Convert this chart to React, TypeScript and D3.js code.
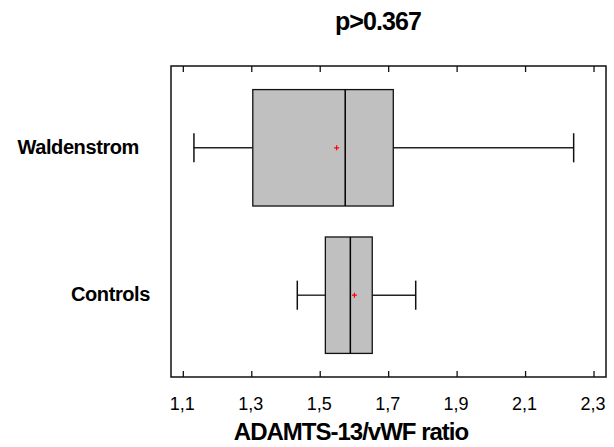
import React from 'react';
import * as d3 from 'd3';

const title = 'p>0.367';
const xTitle = 'ADAMTS-13/vWF ratio';
const categories = ['Waldenstrom', 'Controls'];
const lowerWhisker = [1.131, 1.433];
const q1 = [1.303, 1.515];
const median = [1.573, 1.588];
const q3 = [1.7135, 1.652];
const upperWhisker = [2.2405, 1.779];
const means = [1.548, 1.6];
const tickValues = [1.1, 1.3, 1.5, 1.7, 1.9, 2.1, 2.3];

const width = 614;
const height = 447;
const frame = { left: 171, right: 606, top: 66, bottom: 377 };
const labelRight = [139, 150];

const App = () => {
  const x = d3.scaleLinear().domain([1.064, 2.335]).range([frame.left, frame.right]);
  const y = d3
    .scaleBand()
    .domain(categories)
    .range([frame.top, frame.bottom])
    .paddingInner(0.21)
    .paddingOuter(0.16);
  const bw = y.bandwidth();
  const fmt = d3.formatLocale({ decimal: ',', thousands: '.', grouping: [3], currency: ['', ''] }).format('.1f');
  const font = 'Liberation Sans, Arial, sans-serif';

  return (
    <svg width={width} height={height} style={{ position: 'absolute', left: 0, top: 0, background: '#fff' }} fontFamily={font}>
      <text x={378} y={30} textAnchor="middle" fontSize={25} fontWeight="bold" letterSpacing={-0.9}>{title}</text>

      {categories.map((c, i) => {
        const cy = (y(c) as number) + bw / 2;
        const top = y(c) as number;
        const capH = bw * 0.25;
        return (
          <g key={c}>
            <line x1={x(lowerWhisker[i])} x2={x(q1[i])} y1={cy} y2={cy} stroke="#222" strokeWidth={1.4} />
            <line x1={x(q3[i])} x2={x(upperWhisker[i])} y1={cy} y2={cy} stroke="#222" strokeWidth={1.4} />
            <line x1={x(lowerWhisker[i])} x2={x(lowerWhisker[i])} y1={cy - capH / 2} y2={cy + capH / 2} stroke="#111" strokeWidth={1.5} />
            <line x1={x(upperWhisker[i])} x2={x(upperWhisker[i])} y1={cy - capH / 2} y2={cy + capH / 2} stroke="#111" strokeWidth={1.5} />
            <rect x={x(q1[i])} y={top} width={x(q3[i]) - x(q1[i])} height={bw} fill="#c0c0c0" stroke="#111" strokeWidth={1.3} />
            <line x1={x(median[i])} x2={x(median[i])} y1={top} y2={top + bw} stroke="#000" strokeWidth={1.5} />
            <path d={`M${x(means[i]) - 2.5},${cy}H${x(means[i]) + 2.5}M${x(means[i])},${cy - 2.5}V${cy + 2.5}`} stroke="#ff0000" strokeWidth={1.2} />
            <text x={labelRight[i]} y={cy + 6} textAnchor="end" fontSize={20} fontWeight="bold" letterSpacing={-0.4}>{c}</text>
          </g>
        );
      })}

      <rect x={frame.left} y={frame.top} width={frame.right - frame.left} height={frame.bottom - frame.top} fill="none" stroke="#111" strokeWidth={1.5} />
      {tickValues.map((t) => (
        <g key={t}>
          <line x1={x(t)} x2={x(t)} y1={frame.bottom} y2={frame.bottom - 6} stroke="#111" strokeWidth={1.3} />
          <line x1={x(t)} x2={x(t)} y1={frame.top} y2={frame.top + 6} stroke="#111" strokeWidth={1.3} />
          <text x={x(t) - 1} y={410} textAnchor="middle" fontSize={18}>{fmt(t)}</text>
        </g>
      ))}
      <text x={351} y={440} textAnchor="middle" fontSize={24} fontWeight="bold" letterSpacing={-1}>{xTitle}</text>
    </svg>
  );
};

export default App;
